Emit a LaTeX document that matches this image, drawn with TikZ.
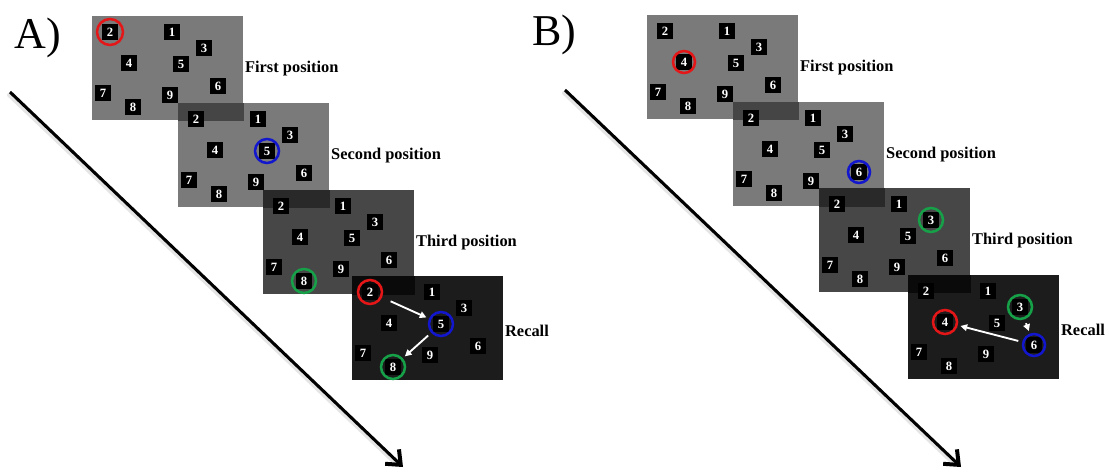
\documentclass[tikz,border=0pt]{standalone}
\usepackage{fontspec}
\setmainfont{Liberation Serif}
\usetikzlibrary{arrows.meta}

% one pixel of the layout grid
\def\px{0.75pt}

\definecolor{scrlight}{gray}{0.48}
\definecolor{scrmid}{gray}{0.28}
\definecolor{scrdark}{gray}{0.11}
\definecolor{ovlA}{gray}{0.27}
\definecolor{ovlB}{gray}{0.16}
\definecolor{ovlC}{gray}{0.04}
\definecolor{ringred}{RGB}{228,22,24}
\definecolor{ringblue}{RGB}{18,22,205}
\definecolor{ringgreen}{RGB}{22,160,72}

\tikzset{
  screen/.style={draw=none, rectangle, anchor=north west, inner sep=0pt,
    minimum width=151*\px, minimum height=104*\px},
  numbox/.style={fill=black, text=white, rectangle, inner sep=0pt,
    minimum size=16*\px, font=\bfseries\fontsize{9.5}{10}\selectfont},
  ring/.style={circle, draw, line width=1.9pt, inner sep=0pt,
    minimum size=24*\px},
  poslabel/.style={anchor=west, inner sep=1pt,
    font=\bfseries\fontsize{12.3}{14}\selectfont},
  panellabel/.style={inner sep=0pt, font=\fontsize{33}{36}\selectfont},
  timearrow/.style={line width=2.3pt,
    -{Straight Barb[length=9pt,width=15pt,line width=3pt]}},
  timeshadow/.style={line width=3pt, draw=black!10, line cap=round},
  recallarrow/.style={draw=white, line width=1.4pt,
    -{Triangle[length=5pt,width=5pt]}, shorten <=3pt, shorten >=2pt},
}

% a screen's background, and its nine numbered squares
\newcommand\drawscreenbg[4]{%
  \node[screen, fill=#4] (#1) at (#2,#3) {};
}
\newcommand\drawscreenboxes[1]{%
  \foreach \n/\dx/\dy in {1/80/16, 2/18/16, 3/112/32, 4/37/47, 5/89/48,
                          6/126/70, 7/11/77, 8/41/91, 9/78/79}
    \node[numbox] (#1-\n) at ([shift={(\dx,\dy)}]#1.north west) {\n};
}
% darker band where a later screen covers the earlier one
\newcommand\overlapband[3]{%
  \fill[#3] (#2.north west) rectangle (#1.south east);
}

\begin{document}
\begin{tikzpicture}[x=0.75pt, y=-0.75pt]
\useasboundingbox (0,0) rectangle (1109,471);

% ---------------- panel A ----------------
\node[panellabel] (labA) at (38,38) {A)};

\drawscreenbg{A1}{92}{16}{scrlight}
\drawscreenboxes{A1}
\drawscreenbg{A2}{178}{103}{scrlight}
\overlapband{A1}{A2}{ovlA}
\drawscreenboxes{A2}
\drawscreenbg{A3}{263}{190}{scrmid}
\overlapband{A2}{A3}{ovlB}
\drawscreenboxes{A3}
\drawscreenbg{A4}{352}{276}{scrdark}
\overlapband{A3}{A4}{ovlC}
\drawscreenboxes{A4}

\node[poslabel] at (A1.east) {First position};
\node[poslabel] at (A2.east) {Second position};
\node[poslabel] at (A3.east) {Third position};
\node[poslabel] at ([yshift=-2]A4.east) {Recall};

\node[ring, draw=ringred, minimum size=26*\px] (A1r) at (A1-2) {};
\node[ring, draw=ringblue] (A2b) at (A2-5) {};
\node[ring, draw=ringgreen] (A3g) at (A3-8) {};
\node[ring, draw=ringred] (A4r) at (A4-2) {};
\node[ring, draw=ringblue] (A4b) at (A4-5) {};
\node[ring, draw=ringgreen] (A4g) at (A4-8) {};
\draw[recallarrow, shorten <=7pt] (A4r) -- (A4b);
\draw[recallarrow] (A4b) -- (A4g);

\coordinate (tA0) at (10,92);
\coordinate (tA1) at (403,467);
\draw[timeshadow] ([shift={(-1,3)}]tA0) -- ([shift={(-10,-6)}]tA1);
\draw[timearrow] (tA0) -- (tA1);

% ---------------- panel B ----------------
\node[panellabel] (labB) at (554,35) {B)};

\drawscreenbg{B1}{647}{15}{scrlight}
\drawscreenboxes{B1}
\drawscreenbg{B2}{733}{102}{scrlight}
\overlapband{B1}{B2}{ovlA}
\drawscreenboxes{B2}
\drawscreenbg{B3}{819}{188}{scrmid}
\overlapband{B2}{B3}{ovlB}
\drawscreenboxes{B3}
\drawscreenbg{B4}{908}{275}{scrdark}
\overlapband{B3}{B4}{ovlC}
\drawscreenboxes{B4}

\node[poslabel] at (B1.east) {First position};
\node[poslabel] at (B2.east) {Second position};
\node[poslabel] at (B3.east) {Third position};
\node[poslabel] at ([yshift=-2]B4.east) {Recall};

\node[ring, draw=ringred, minimum size=22*\px] (B1r) at (B1-4) {};
\node[ring, draw=ringblue, minimum size=22*\px] (B2b) at (B2-6) {};
\node[ring, draw=ringgreen] (B3g) at (B3-3) {};
\node[ring, draw=ringred] (B4r) at (B4-4) {};
\node[ring, draw=ringblue, minimum size=22*\px] (B4b) at (B4-6) {};
\node[ring, draw=ringgreen] (B4g) at (B4-3) {};
\draw[recallarrow] (B4g) -- (B4b);
\draw[recallarrow] (B4b) -- (B4r);

\coordinate (tB0) at (565,90);
\coordinate (tB1) at (961,467);
\draw[timeshadow] ([shift={(-1,3)}]tB0) -- ([shift={(-10,-6)}]tB1);
\draw[timearrow] (tB0) -- (tB1);
\end{tikzpicture}
\end{document}
